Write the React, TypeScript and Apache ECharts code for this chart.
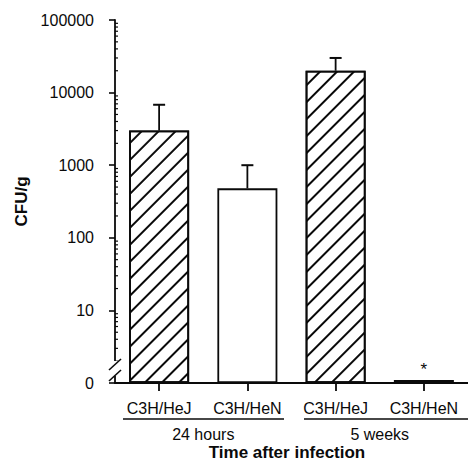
import React, { useEffect, useRef } from "react";
import * as echarts from "echarts";

const categories = ["C3H/HeJ", "C3H/HeN", "C3H/HeJ", "C3H/HeN"];
const groups = ["24 hours", "5 weeks"];
const meanCFU = [3000, 480, 20000, 1.1];
const errorTop = [6800, 1000, 30000, null];
const hatched = [true, false, true, false];
const significance = ["", "", "", "*"];
const yTicks = [1, 10, 100, 1000, 10000, 100000];
const yTickLabels = ["0", "10", "100", "1000", "10000", "100000"];
const minorTickValues = [
  2, 3, 4, 5, 6, 7, 8, 9,
  20, 30, 40, 50, 60, 70, 80, 90,
  200, 300, 400, 500, 600, 700, 800, 900,
  2000, 3000, 4000, 5000, 6000, 7000, 8000, 9000,
  20000, 30000, 40000, 50000, 60000, 70000, 80000, 90000,
];

const FONT = "'Liberation Sans', Arial, Helvetica, sans-serif";
const INK = "#0a0a0a";

export default function App() {
  const ref = useRef<HTMLDivElement>(null);

  useEffect(() => {
    if (!ref.current) return;
    document.body.style.margin = "0";
    const chart = echarts.init(ref.current, null, { renderer: "svg" });

    const hatch = {
      symbol: "rect",
      symbolSize: 1,
      dashArrayX: [1, 0],
      dashArrayY: [1.6, 9.8],
      rotation: -Math.PI / 4,
      color: INK,
    };

    const barData = meanCFU.map((v, i) => ({
      value: v,
      itemStyle: {
        color: "#fff",
        borderColor: INK,
        borderWidth: 1.8,
        decal: hatched[i] ? hatch : undefined,
      },
      label: significance[i]
        ? {
            show: true,
            position: "top",
            distance: 2,
            formatter: significance[i],
            fontSize: 17,
            color: INK,
            fontFamily: FONT,
          }
        : { show: false },
    }));

    const errData = meanCFU
      .map((v, i) => (errorTop[i] == null ? null : [i, v, errorTop[i]]))
      .filter((d) => d !== null);

    const option: any = {
      animation: false,
      backgroundColor: "#fff",
      grid: { left: 115, top: 20, width: 360, bottom: 79, containLabel: false },
      xAxis: [
        {
          type: "category",
          data: categories,
          position: "bottom",
          axisLine: { show: true, lineStyle: { color: INK, width: 1.8 } },
          axisTick: { show: true, alignWithLabel: true, length: 8, lineStyle: { color: INK, width: 1.8 } },
          axisLabel: { color: INK, fontSize: 16, fontFamily: FONT, margin: 17, interval: 0 },
          splitLine: { show: false },
        },
        {
          type: "category",
          data: groups,
          position: "bottom",
          gridIndex: 0,
          axisLine: { show: false },
          axisTick: { show: false },
          axisLabel: { color: INK, fontSize: 16, fontFamily: FONT, margin: 43, interval: 0 },
          splitLine: { show: false },
        },
      ],
      yAxis: {
        type: "log",
        logBase: 10,
        min: 1,
        max: 100000,
        name: "CFU/g",
        nameLocation: "middle",
        nameGap: 80,
        nameTextStyle: { color: INK, fontSize: 17, fontWeight: "bold", fontFamily: FONT },
        axisLine: { show: true, lineStyle: { color: INK, width: 1.8 } },
        axisTick: { show: true, length: 6, lineStyle: { color: INK, width: 1.6 } },
        axisLabel: {
          color: INK,
          fontSize: 16,
          fontFamily: FONT,
          margin: 21,
          formatter: (val: number) => {
            const r = Math.round(val);
            const idx = yTicks.indexOf(r);
            return idx >= 0 ? yTickLabels[idx] : String(r);
          },
        },
        splitLine: { show: false },
        minorTick: { show: false },
      },
      series: [
        {
          type: "bar",
          xAxisIndex: 0,
          barWidth: 60,
          data: barData,
          z: 2,
        },
        {
          type: "custom",
          xAxisIndex: 0,
          data: errData,
          encode: { x: 0, y: 1 },
          z: 3,
          silent: true,
          renderItem: (params: any, api: any) => {
            const x = api.value(0);
            const base = api.coord([x, api.value(1)]);
            const top = api.coord([x, api.value(2)]);
            const style = { stroke: INK, lineWidth: 1.8 };
            return {
              type: "group",
              children: [
                { type: "line", shape: { x1: base[0], y1: base[1], x2: top[0], y2: top[1] }, style },
                { type: "line", shape: { x1: top[0] - 6, y1: top[1], x2: top[0] + 6, y2: top[1] }, style: { stroke: INK, lineWidth: 2 } },
              ],
            };
          },
        },
        {
          type: "custom",
          xAxisIndex: 0,
          data: minorTickValues.map((v) => [0, v]),
          encode: { x: 0, y: 1 },
          z: 4,
          silent: true,
          clip: false,
          renderItem: (params: any, api: any) => {
            const p = api.coord([0, api.value(1)]);
            const x0 = params.coordSys.x;
            return {
              type: "line",
              shape: { x1: x0, y1: p[1], x2: x0 + 3, y2: p[1] },
              style: { stroke: INK, lineWidth: 1.2 },
            };
          },
        },
      ],
      graphic: [
        { type: "rect", shape: { x: 111, y: 361, width: 8, height: 15 }, style: { fill: "#fff" }, z: 100 },
        { type: "line", shape: { x1: 109, y1: 370, x2: 121, y2: 359 }, style: { stroke: INK, lineWidth: 1.6 }, z: 101 },
        { type: "line", shape: { x1: 109, y1: 381, x2: 121, y2: 370 }, style: { stroke: INK, lineWidth: 1.6 }, z: 101 },
        { type: "line", shape: { x1: 123, y1: 419, x2: 284, y2: 419 }, style: { stroke: INK, lineWidth: 1.6 }, z: 100 },
        { type: "line", shape: { x1: 304, y1: 419, x2: 468, y2: 419 }, style: { stroke: INK, lineWidth: 1.6 }, z: 100 },
        {
          type: "text",
          x: 287,
          y: 452,
          z: 100,
          style: {
            text: "Time after infection",
            fill: INK,
            font: `bold 17px ${FONT}`,
            textAlign: "center",
            textVerticalAlign: "middle",
          },
        },
      ],
    };

    chart.setOption(option);
    return () => chart.dispose();
  }, []);

  return <div ref={ref} style={{ position: "absolute", left: 0, top: 0, width: 468, height: 462 }} />;
}
